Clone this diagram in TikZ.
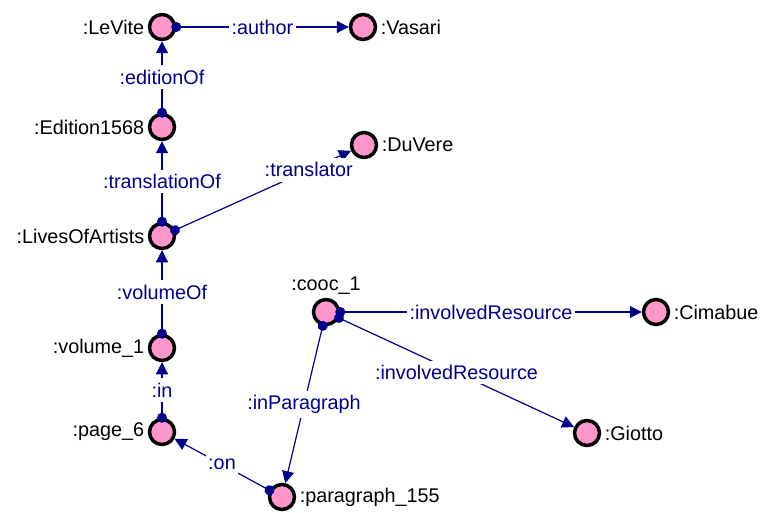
\documentclass[tikz,border=0pt]{standalone}
\usepackage{fontspec}
\setmainfont{Liberation Sans}
\usetikzlibrary{arrows.meta}
\definecolor{relblue}{RGB}{0,0,140}
\definecolor{respink}{RGB}{255,150,204}

\tikzset{
  res/.style={circle, draw=black, line width=3.5bp, fill=respink,
    minimum size=25bp, inner sep=0pt, label distance=0bp},
  rel/.style={relblue, line width=1.2bp, shorten <=-5bp,
    {Circle[length=10bp]}-{Triangle[length=12bp,width=12bp]}},
  rlab/.style={fill=white, text=relblue, inner xsep=2.5bp, inner ysep=4.5bp},
}

\begin{document}
\begin{tikzpicture}[x=1bp,y=-1bp,font=\fontsize{19.8bp}{23bp}\selectfont]
\useasboundingbox (0,0) rectangle (765,513);

% resources
\foreach \name/\x/\y/\side/\lab in {
LeVite/162/27/left/{:LeVite},
Vasari/363/27/right/{:Vasari},
Edition/162/127/left/{:Edition1568},
DuVere/364/145/right/{:DuVere},
Lives/162/236/left/{:LivesOfArtists},
Cooc/326/312/above/{:cooc\_1},
Cimabue/656/312/right/{:Cimabue},
Volume/162/348/left/{:volume\_1},
Page/162/432/left/{:page\_6},
Giotto/587/433/right/{:Giotto},
Para/282/497/right/{:paragraph\_155}}
{
    \node[res, label={\side:{\lab}}] (\name) at (\x,\y) {};
}

% properties
\foreach \a/\b/\p/\lab in {
LeVite/Vasari/0.5/{:author},
Edition/LeVite/0.5/{:editionOf},
Lives/Edition/0.5/{:translationOf},
Lives/DuVere/0.76/{:translator},
Volume/Lives/0.5/{:volumeOf},
Page/Volume/0.5/{:in},
Para/Page/0.5/{:on},
Cooc/Para/0.5/{:inParagraph},
Cooc/Cimabue/0.5/{:involvedResource},
Cooc/Giotto/0.5/{:involvedResource}}
{
    \draw[rel] (\a) -- node[rlab, pos=\p] {\lab} (\b);
}
\end{tikzpicture}
\end{document}
